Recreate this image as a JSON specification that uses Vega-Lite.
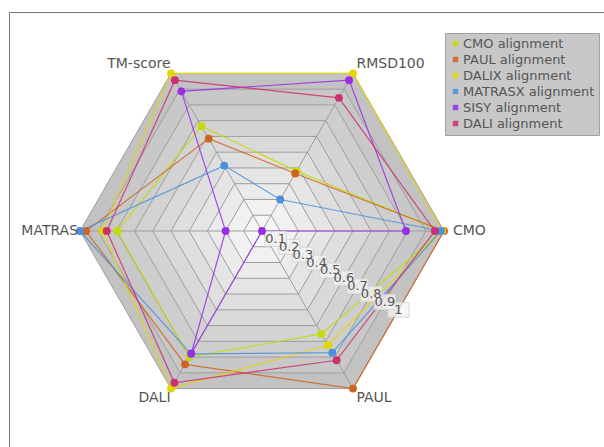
{
  "$schema": "https://vega.github.io/schema/vega-lite/v6.json",
  "width": 595,
  "height": 435,
  "autosize": {"type": "none"},
  "padding": {"left": 9, "top": 12, "right": 0, "bottom": 0},
  "background": "white",
  "config": {"view": {"stroke": "#777", "strokeWidth": 1}, "font": "DejaVu Sans"},
  "datasets": {
    "scores": [
      {"method": "CMO alignment", "metric": "CMO", "value": 0.99},
      {"method": "CMO alignment", "metric": "RMSD100", "value": 0.38},
      {"method": "CMO alignment", "metric": "TM-score", "value": 0.665},
      {"method": "CMO alignment", "metric": "MATRAS", "value": 0.795},
      {"method": "CMO alignment", "metric": "DALI", "value": 0.8},
      {"method": "CMO alignment", "metric": "PAUL", "value": 0.653},
      {"method": "PAUL alignment", "metric": "CMO", "value": 1.0},
      {"method": "PAUL alignment", "metric": "RMSD100", "value": 0.365},
      {"method": "PAUL alignment", "metric": "TM-score", "value": 0.586},
      {"method": "PAUL alignment", "metric": "MATRAS", "value": 0.967},
      {"method": "PAUL alignment", "metric": "DALI", "value": 0.846},
      {"method": "PAUL alignment", "metric": "PAUL", "value": 1.0},
      {"method": "DALIX alignment", "metric": "CMO", "value": 0.99},
      {"method": "DALIX alignment", "metric": "RMSD100", "value": 1.0},
      {"method": "DALIX alignment", "metric": "TM-score", "value": 1.0},
      {"method": "DALIX alignment", "metric": "MATRAS", "value": 0.877},
      {"method": "DALIX alignment", "metric": "DALI", "value": 1.0},
      {"method": "DALIX alignment", "metric": "PAUL", "value": 0.725},
      {"method": "MATRASX alignment", "metric": "CMO", "value": 0.983},
      {"method": "MATRASX alignment", "metric": "RMSD100", "value": 0.2},
      {"method": "MATRASX alignment", "metric": "TM-score", "value": 0.415},
      {"method": "MATRASX alignment", "metric": "MATRAS", "value": 1.0},
      {"method": "MATRASX alignment", "metric": "DALI", "value": 0.78},
      {"method": "MATRASX alignment", "metric": "PAUL", "value": 0.772},
      {"method": "SISY alignment", "metric": "CMO", "value": 0.791},
      {"method": "SISY alignment", "metric": "RMSD100", "value": 0.957},
      {"method": "SISY alignment", "metric": "TM-score", "value": 0.886},
      {"method": "SISY alignment", "metric": "MATRAS", "value": 0.2},
      {"method": "SISY alignment", "metric": "DALI", "value": 0.777},
      {"method": "SISY alignment", "metric": "PAUL", "value": 0.0},
      {"method": "DALI alignment", "metric": "CMO", "value": 0.95},
      {"method": "DALI alignment", "metric": "RMSD100", "value": 0.845},
      {"method": "DALI alignment", "metric": "TM-score", "value": 0.957},
      {"method": "DALI alignment", "metric": "MATRAS", "value": 0.853},
      {"method": "DALI alignment", "metric": "DALI", "value": 0.963},
      {"method": "DALI alignment", "metric": "PAUL", "value": 0.82}
    ],
    "levels": [
      {"level": 1.0, "label": "1"},
      {"level": 0.9, "label": "0.9"},
      {"level": 0.8, "label": "0.8"},
      {"level": 0.7, "label": "0.7"},
      {"level": 0.6, "label": "0.6"},
      {"level": 0.5, "label": "0.5"},
      {"level": 0.4, "label": "0.4"},
      {"level": 0.3, "label": "0.3"},
      {"level": 0.2, "label": "0.2"},
      {"level": 0.1, "label": "0.1"}
    ],
    "metrics": [
      {"metric": "CMO"},
      {"metric": "RMSD100"},
      {"metric": "TM-score"},
      {"metric": "MATRAS"},
      {"metric": "DALI"},
      {"metric": "PAUL"}
    ]
  },
  "layer": [
    {
      "data": {"name": "levels"},
      "mark": {"type": "point", "shape": "M1,0L0.5,-0.866L-0.5,-0.866L-1,0L-0.5,0.866L0.5,0.866Z", "filled": true, "stroke": "#9e9e9e", "strokeWidth": 1, "opacity": 1, "fillOpacity": 1, "strokeOpacity": 1},
      "encoding": {
        "x": {"datum": 0, "type": "quantitative", "scale": {"domain": [-1.39011, 1.87912], "nice": false, "zero": false}, "axis": null},
        "y": {"datum": 0, "type": "quantitative", "scale": {"domain": [-1.18681, 1.2033], "nice": false, "zero": false}, "axis": null},
        "size": {"field": "level", "type": "quantitative", "scale": {"type": "pow", "exponent": 2, "domain": [0, 1], "range": [0, 132496]}, "legend": null},
        "fill": {"field": "level", "type": "quantitative", "scale": {"domain": [0.1, 1], "range": ["#f7f7f7", "#c2c2c2"]}, "legend": null}
      }
    },
    {
      "data": {"name": "levels"},
      "transform": [{"filter": "datum.level == 1"}],
      "mark": {"type": "point", "shape": "M-1,0L1,0M-0.5,-0.866L0.5,0.866M0.5,-0.866L-0.5,0.866", "filled": false, "stroke": "#9e9e9e", "strokeWidth": 1, "opacity": 1},
      "encoding": {
        "x": {"datum": 0, "type": "quantitative", "axis": null},
        "y": {"datum": 0, "type": "quantitative", "axis": null},
        "size": {"field": "level", "type": "quantitative", "legend": null}
      }
    },
    {
      "data": {"name": "scores"},
      "transform": [
        {"calculate": "indexof(['CMO','RMSD100','TM-score','MATRAS','DALI','PAUL'], datum.metric)", "as": "k"},
        {"calculate": "datum.value * cos(datum.k * PI / 3)", "as": "px"},
        {"calculate": "datum.value * sin(datum.k * PI / 3)", "as": "py"}
      ],
      "mark": {"type": "line", "interpolate": "linear-closed", "strokeWidth": 1.2, "opacity": 0.85},
      "encoding": {
        "x": {"field": "px", "type": "quantitative", "axis": null},
        "y": {"field": "py", "type": "quantitative", "axis": null},
        "order": {"field": "k", "type": "quantitative"},
        "color": {"field": "method", "type": "nominal",
          "scale": {"domain": ["CMO alignment", "PAUL alignment", "DALIX alignment", "MATRASX alignment", "SISY alignment", "DALI alignment"],
                    "range": ["#c4dc00", "#d0631f", "#e4d600", "#4a90dc", "#9a2ee6", "#cc2f72"]}}
      }
    },
    {
      "data": {"name": "levels"},
      "transform": [
        {"calculate": "datum.level * 0.75", "as": "tx"},
        {"calculate": "-datum.level * 0.433", "as": "ty"}
      ],
      "mark": {"type": "point", "shape": "M-1,-0.7H1V0.7H-1Z", "filled": true, "size": 440, "fill": "#f4f4f4", "fillOpacity": 0.75, "stroke": "#d6d6d6", "strokeWidth": 1, "opacity": 1},
      "encoding": {
        "x": {"field": "tx", "type": "quantitative", "axis": null},
        "y": {"field": "ty", "type": "quantitative", "axis": null}
      }
    },
    {
      "data": {"name": "levels"},
      "transform": [
        {"calculate": "datum.level * 0.75", "as": "tx"},
        {"calculate": "-datum.level * 0.433", "as": "ty"}
      ],
      "mark": {"type": "text", "fontSize": 13, "color": "#555", "align": "center", "baseline": "middle"},
      "encoding": {
        "x": {"field": "tx", "type": "quantitative", "axis": null},
        "y": {"field": "ty", "type": "quantitative", "axis": null},
        "text": {"field": "label"}
      }
    },
    {
      "data": {"name": "scores"},
      "transform": [
        {"calculate": "indexof(['CMO','RMSD100','TM-score','MATRAS','DALI','PAUL'], datum.metric)", "as": "k"},
        {"calculate": "datum.value * cos(datum.k * PI / 3)", "as": "px"},
        {"calculate": "datum.value * sin(datum.k * PI / 3)", "as": "py"}
      ],
      "mark": {"type": "point", "filled": true, "size": 62, "opacity": 1},
      "encoding": {
        "x": {"field": "px", "type": "quantitative", "axis": null},
        "y": {"field": "py", "type": "quantitative", "axis": null},
        "color": {"field": "method", "type": "nominal",
          "legend": {"title": null, "orient": "none", "legendX": 436, "legendY": 21, "fillColor": "#c8c8c8", "strokeColor": "#a0a0a0", "padding": 4, "symbolType": "square", "symbolSize": 30, "symbolStrokeWidth": 0, "symbolOpacity": 1, "labelFontSize": 13, "labelColor": "#555", "labelFont": "DejaVu Sans", "rowPadding": 2, "labelOffset": 1}}
      }
    },
    {
      "data": {"name": "metrics"},
      "transform": [
        {"calculate": "indexof(['CMO','RMSD100','TM-score','MATRAS','DALI','PAUL'], datum.metric)", "as": "k"},
        {"calculate": "1.06 * cos(datum.k * PI / 3)", "as": "lx"},
        {"calculate": "1.06 * sin(datum.k * PI / 3)", "as": "ly"},
        {"filter": "datum.k == 0 || datum.k == 1 || datum.k == 5"}
      ],
      "mark": {"type": "text", "fontSize": 14, "color": "#555", "align": "left", "baseline": "middle", "dx": -2},
      "encoding": {
        "x": {"field": "lx", "type": "quantitative", "axis": null},
        "y": {"field": "ly", "type": "quantitative", "axis": null},
        "text": {"field": "metric"}
      }
    },
    {
      "data": {"name": "metrics"},
      "transform": [
        {"calculate": "indexof(['CMO','RMSD100','TM-score','MATRAS','DALI','PAUL'], datum.metric)", "as": "k"},
        {"calculate": "1.06 * cos(datum.k * PI / 3)", "as": "lx"},
        {"calculate": "1.06 * sin(datum.k * PI / 3)", "as": "ly"},
        {"filter": "datum.k == 2 || datum.k == 4"}
      ],
      "mark": {"type": "text", "fontSize": 14, "color": "#555", "align": "right", "baseline": "middle", "dx": 5},
      "encoding": {
        "x": {"field": "lx", "type": "quantitative", "axis": null},
        "y": {"field": "ly", "type": "quantitative", "axis": null},
        "text": {"field": "metric"}
      }
    },
    {
      "data": {"name": "metrics"},
      "transform": [
        {"calculate": "indexof(['CMO','RMSD100','TM-score','MATRAS','DALI','PAUL'], datum.metric)", "as": "k"},
        {"calculate": "1.06 * cos(datum.k * PI / 3)", "as": "lx"},
        {"calculate": "1.06 * sin(datum.k * PI / 3)", "as": "ly"},
        {"filter": "datum.k == 3"}
      ],
      "mark": {"type": "text", "fontSize": 14, "color": "#555", "align": "right", "baseline": "middle", "dx": 9},
      "encoding": {
        "x": {"field": "lx", "type": "quantitative", "axis": null},
        "y": {"field": "ly", "type": "quantitative", "axis": null},
        "text": {"field": "metric"}
      }
    }
  ]
}
